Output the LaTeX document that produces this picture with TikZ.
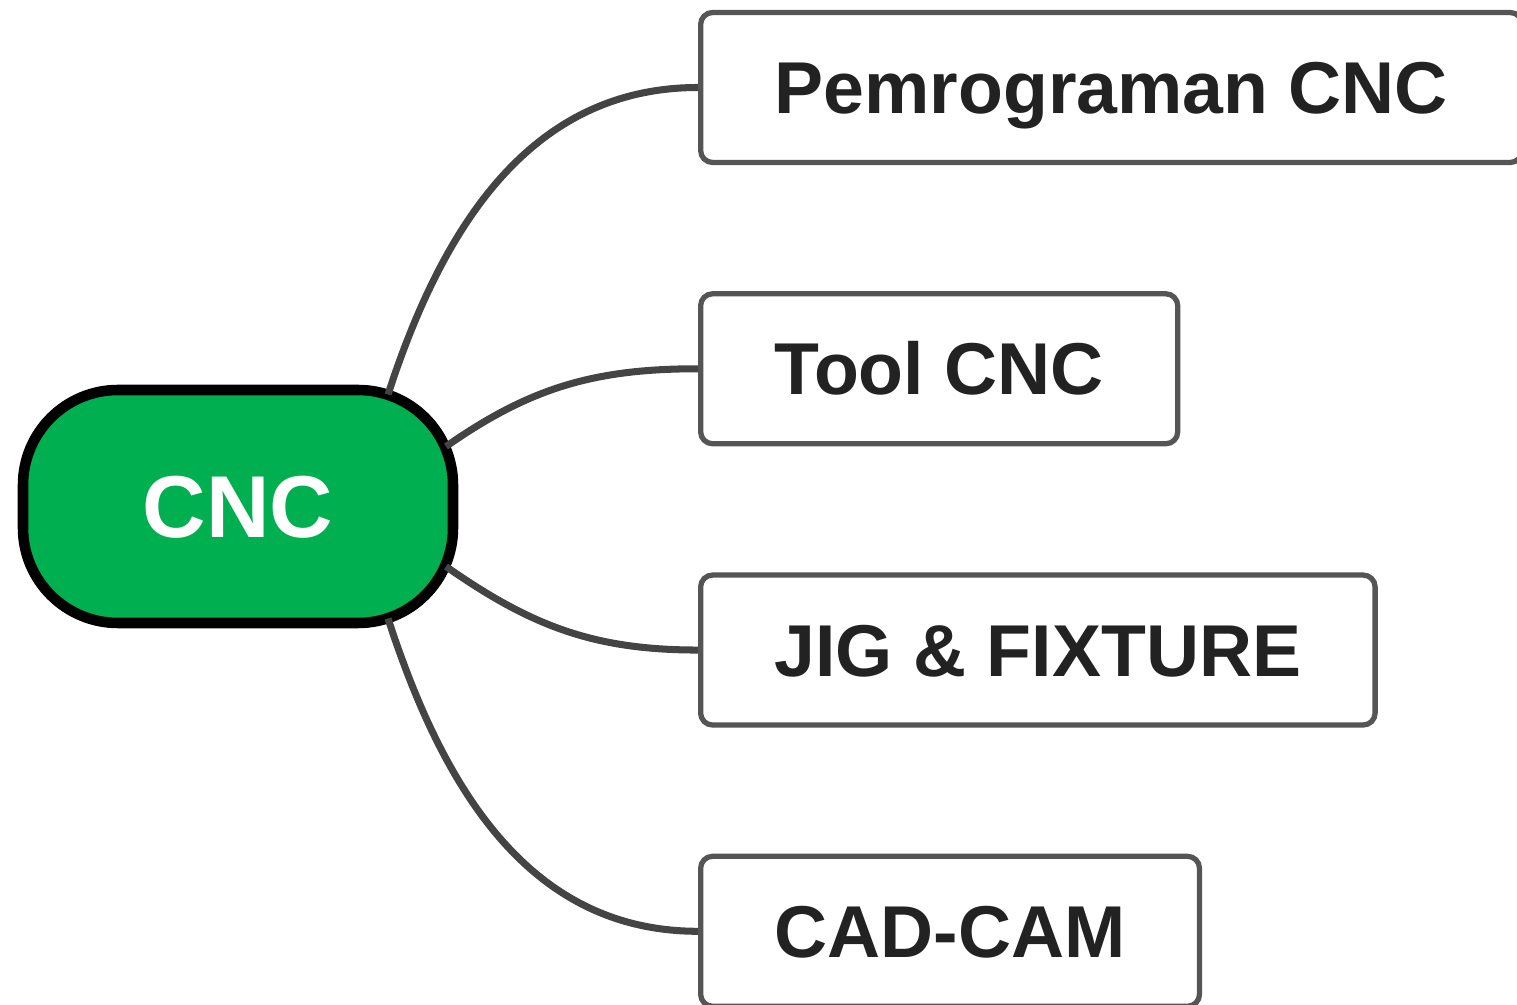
\documentclass[tikz,border=0pt]{standalone}
\usepackage{fontspec}
\setmainfont{Liberation Sans}
\usetikzlibrary{positioning}
\definecolor{cncgreen}{HTML}{00B050}
\definecolor{edgegray}{HTML}{444444}
\definecolor{boxline}{HTML}{555555}
\definecolor{textdark}{HTML}{222222}
\begin{document}
\begin{tikzpicture}[
		branch/.style={draw=edgegray, line width=2pt}
	]
	\tikzstyle{Node} = [ %common look of the text in the shapes
		text depth=0pt,
		font=\bfseries\fontsize{20.9}{24}\selectfont
	]
	\tikzstyle{RootNode} = [
		rectangle,
		rounded corners=0.95cm,
		draw=black,
		line width=3pt,
		fill=cncgreen,
		text=white,
		minimum width=4.3cm,
		minimum height=2.33cm,
		Node,
		text height=0.63cm,
		font=\bfseries\fontsize{25}{30}\selectfont
	]
	\tikzstyle{BoxNode} = [
		rectangle,
		rounded corners=0.12cm,
		draw=boxline,
		line width=1.5pt,
		fill=white,
		text=textdark,
		minimum height=1.5cm,
		inner xsep=0.74cm,
		text height=0.52cm,
		Node
	]

	\useasboundingbox (0,0) rectangle (15.17,-10.05);
	\clip (0,0) rectangle (15.17,-10.05);

	\node (cnc) [RootNode] at (2.38,-5.065) {CNC};
	\node (prog) [BoxNode, anchor=west] at (6.98,-0.875) {Pemrograman CNC};
	\node (tool) [BoxNode, below=1.26cm of prog.south west, anchor=north west] {Tool CNC};
	\node (jig) [BoxNode, below=1.26cm of tool.south west, anchor=north west] {JIG \& FIXTURE};
	\node (cam) [BoxNode, below=1.26cm of jig.south west, anchor=north west] {CAD-CAM};

	\draw[branch] ([shift={(1.5,1.12)}]cnc.center) to[out=72, in=180] (prog.west);
	\draw[branch] ([shift={(2.08,0.6)}]cnc.center) to[out=35, in=180] (tool.west);
	\draw[branch] ([shift={(2.08,-0.6)}]cnc.center) to[out=-35, in=180] (jig.west);
	\draw[branch] ([shift={(1.5,-1.12)}]cnc.center) to[out=-72, in=180] (cam.west);
\end{tikzpicture}
\end{document}
